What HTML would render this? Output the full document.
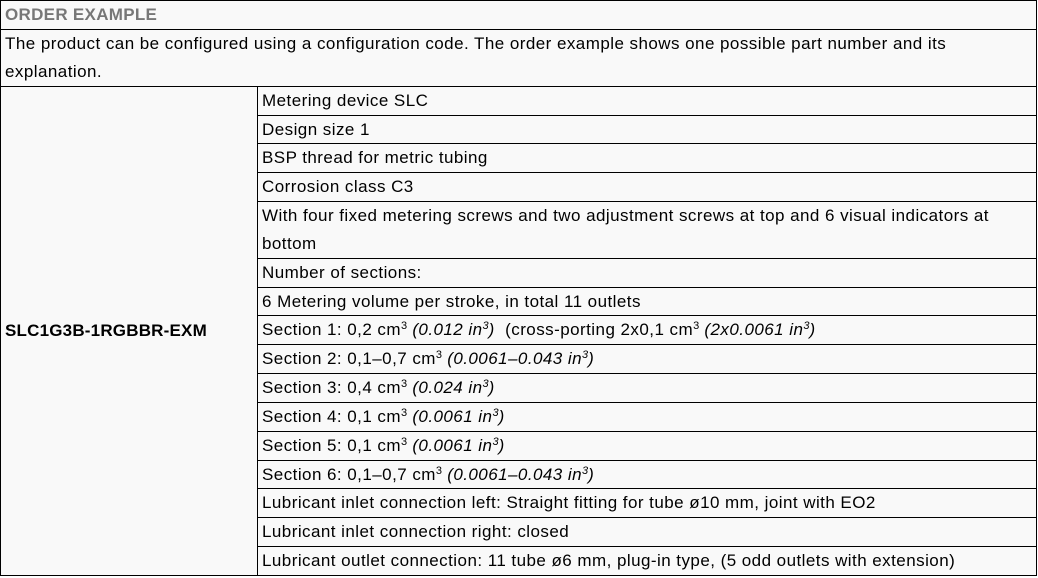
<!DOCTYPE html>
<html><head><meta charset="utf-8"><style>
body{margin:0;width:1038px;height:578px;background:#fff;font-family:"Liberation Sans",sans-serif;font-size:17px;letter-spacing:0.45px;color:#000;overflow:hidden}
.c{position:absolute;box-sizing:border-box;border:1px solid #000;background:#f9f9f9;padding:0 4px;line-height:28px;white-space:nowrap}
sup{font-size:11px;line-height:0;vertical-align:6px;letter-spacing:0}
</style></head><body>
<div class="c" style="left:0;top:0;width:1037px;height:30px;font-weight:bold;color:#777;font-size:17px;letter-spacing:0.3px">ORDER EXAMPLE</div>
<div class="c" style="left:0;top:29px;width:1037px;height:58px">The product can be configured using a configuration code. The order example shows one possible part number and its<br>explanation.</div>
<div class="c" style="left:0;top:86px;width:258px;height:490px;font-weight:bold;line-height:488px;letter-spacing:0.2px">SLC1G3B-1RGBBR-EXM</div>
<div class="c" style="left:257px;top:86px;width:780px;height:30px">Metering device SLC</div>
<div class="c" style="left:257px;top:115px;width:780px;height:29px">Design size 1</div>
<div class="c" style="left:257px;top:143px;width:780px;height:30px">BSP thread for metric tubing</div>
<div class="c" style="left:257px;top:172px;width:780px;height:30px">Corrosion class C3</div>
<div class="c" style="left:257px;top:201px;width:780px;height:58px">With four fixed metering screws and two adjustment screws at top and 6 visual indicators at<br>bottom</div>
<div class="c" style="left:257px;top:258px;width:780px;height:30px">Number of sections:</div>
<div class="c" style="left:257px;top:287px;width:780px;height:29px">6 Metering volume per stroke, in total 11 outlets</div>
<div class="c" style="left:257px;top:315px;width:780px;height:30px">Section 1: 0,2 cm<sup>3</sup> <i>(0.012 in<sup>3</sup>)</i>&nbsp; (cross-porting 2x0,1 cm<sup>3</sup> <i>(2x0.0061 in<sup>3</sup>)</i></div>
<div class="c" style="left:257px;top:344px;width:780px;height:30px">Section 2: 0,1–0,7 cm<sup>3</sup> <i>(0.0061–0.043 in<sup>3</sup>)</i></div>
<div class="c" style="left:257px;top:373px;width:780px;height:30px">Section 3: 0,4 cm<sup>3</sup> <i>(0.024 in<sup>3</sup>)</i></div>
<div class="c" style="left:257px;top:402px;width:780px;height:30px">Section 4: 0,1 cm<sup>3</sup> <i>(0.0061 in<sup>3</sup>)</i></div>
<div class="c" style="left:257px;top:431px;width:780px;height:30px">Section 5: 0,1 cm<sup>3</sup> <i>(0.0061 in<sup>3</sup>)</i></div>
<div class="c" style="left:257px;top:460px;width:780px;height:29px">Section 6: 0,1–0,7 cm<sup>3</sup> <i>(0.0061–0.043 in<sup>3</sup>)</i></div>
<div class="c" style="left:257px;top:488px;width:780px;height:30px">Lubricant inlet connection left: Straight fitting for tube ø10 mm, joint with EO2</div>
<div class="c" style="left:257px;top:517px;width:780px;height:30px">Lubricant inlet connection right: closed</div>
<div class="c" style="left:257px;top:546px;width:780px;height:30px">Lubricant outlet connection: 11 tube ø6 mm, plug-in type, (5 odd outlets with extension)</div>
</body></html>
